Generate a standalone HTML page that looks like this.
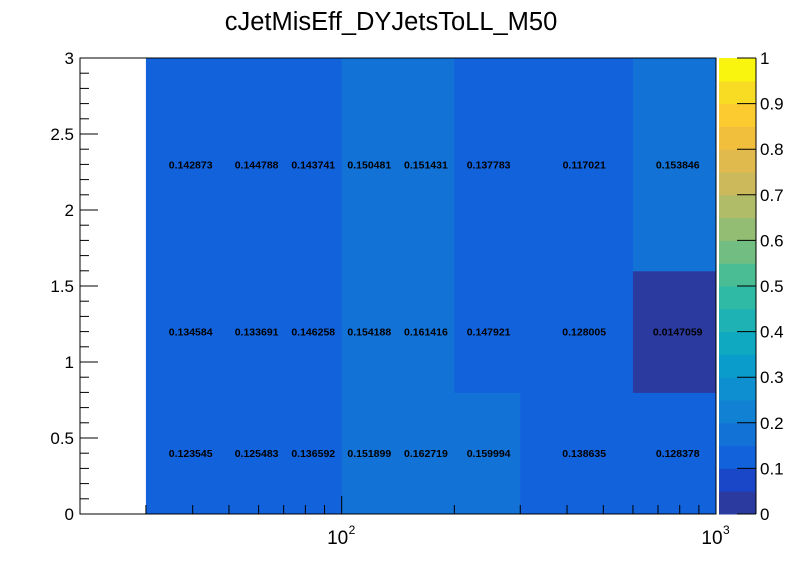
<!DOCTYPE html>
<html><head><meta charset="utf-8"><style>
body{margin:0;background:#fff;}
svg{display:block;font-family:"Liberation Sans",sans-serif;}
</style></head><body>
<svg id="c" width="796" height="572">
<text x="391" y="30" font-size="25.5" text-anchor="middle">cJetMisEff_DYJetsToLL_M50</text>
<g id="cells"></g>
<g id="axes"></g>
<g id="cbar"></g>
</svg>
<script>
const xEdges = [30, 50, 70, 100, 140, 200, 300, 600, 1000];
const yEdges = [0, 0.8, 1.6, 3];
const rowLow  = [0.123545, 0.125483, 0.136592, 0.151899, 0.162719, 0.159994, 0.138635, 0.128378];
const rowMid  = [0.134584, 0.133691, 0.146258, 0.154188, 0.161416, 0.147921, 0.128005, 0.0147059];
const rowHigh = [0.142873, 0.144788, 0.143741, 0.150481, 0.151431, 0.137783, 0.117021, 0.153846];
const yTicks = [0, 0.5, 1, 1.5, 2, 2.5, 3];
const zTicks = [0, 0.1, 0.2, 0.3, 0.4, 0.5, 0.6, 0.7, 0.8, 0.9, 1];
const palette = ["#2b3a9f","#1a47c8","#1262dc","#1272d6","#1181d3","#0e8fcf","#0a9dcb","#0fa9c2","#1fb2b4","#2ebaa4","#4bbd95","#72be82","#93bd72","#b0bc67","#cbb95c","#e1ba4d","#f2bf3d","#fccb2f","#f8dc23","#f9f50f"];
const NS="http://www.w3.org/2000/svg";
const L=80,R=716,T=58,B=514;
const xs=v=>L+(Math.log10(v)-Math.log10(20))/(3-Math.log10(20))*(R-L);
const ys=v=>B-(v/3)*(B-T);
const zs=v=>B-v*(B-T);
function mk(tag,attrs,parent){const e=document.createElementNS(NS,tag);for(const k in attrs)e.setAttribute(k,attrs[k]);parent.appendChild(e);return e;}
const color=v=>palette[Math.min(19,Math.max(0,Math.floor(v*20+1e-9)))];
const rows=[rowLow,rowMid,rowHigh];
const cells=document.getElementById('cells');
rows.forEach((row,j)=>{row.forEach((v,i)=>{
  const x0=xs(xEdges[i]),x1=xs(xEdges[i+1]),y0=ys(yEdges[j+1]),y1=ys(yEdges[j]);
  const r=mk('rect',{x:x0,y:y0,width:x1-x0+0.5,height:y1-y0+0.5,fill:color(v)},cells);
  
  
});});
rows.forEach((row,j)=>{row.forEach((v,i)=>{
  const cx=xs((xEdges[i]+xEdges[i+1])/2)-2,cy=ys((yEdges[j]+yEdges[j+1])/2);
  const t=mk('text',{x:cx,y:cy+4,'font-size':10.5,'font-weight':'bold','text-anchor':'middle'},cells);
  t.textContent=String(v);
  
  
});});
const ax=document.getElementById('axes');
mk('rect',{x:L,y:T,width:R-L,height:B-T,fill:'none',stroke:'#000','stroke-width':1},ax);
for(let v=0;v<=3.0001;v+=0.1){const y=ys(v);const major=Math.abs(v*2-Math.round(v*2))<1e-6;
  mk('line',{x1:L,x2:L+(major?18:9),y1:y,y2:y,stroke:'#000'},ax);}
yTicks.forEach(v=>{const t=mk('text',{x:L-6,y:ys(v)+6,'font-size':17,'text-anchor':'end'},ax);t.textContent=String(v);
  
  });
[30,40,50,60,70,80,90,100,200,300,400,500,600,700,800,900,1000].forEach(v=>{const x=xs(v);const major=(v===100||v===1000);
  mk('line',{x1:x,x2:x,y1:B,y2:B-(major?18:9),stroke:'#000'},ax);});
[100,1000].forEach((v,i)=>{const x=xs(v);const t=mk('text',{x:x-4,y:B+30,'font-size':19,'text-anchor':'middle'},ax);
  t.textContent='10';
  
  
  const s=mk('text',{x:x+7,y:B+20,'font-size':12},ax);s.textContent=String(i+2);});
const cb=document.getElementById('cbar');
palette.forEach((c,k)=>{const r=mk('rect',{x:719,y:zs((k+1)/20),width:37,height:(B-T)/20+0.5,fill:c},cb);
  
  });
mk('line',{x1:756,x2:756,y1:T,y2:B,stroke:'#000'},cb);
zTicks.forEach(v=>{const y=zs(v);mk('line',{x1:737,x2:756,y1:y,y2:y,stroke:'#000'},cb);
  const t=mk('text',{x:760,y:y+6,'font-size':17},cb);t.textContent=String(v);
  
  });
</script>
</body></html>
